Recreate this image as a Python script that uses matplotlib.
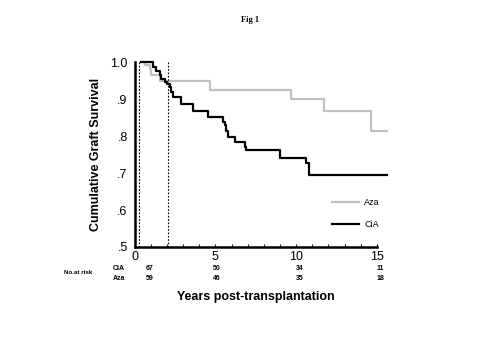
import matplotlib
matplotlib.use("Agg")
import matplotlib.pyplot as plt
from matplotlib.ticker import MultipleLocator, FuncFormatter

# Kaplan-Meier steps (years, cumulative graft survival)
cia_years = [0.4, 1.14, 1.34, 1.55, 1.65, 1.86, 2.0, 2.17, 2.27, 2.38, 2.89, 3.62,
             4.55, 5.47, 5.58, 5.68, 5.79, 6.2, 6.82, 6.92, 8.99, 10.63, 10.8, 15.6]
cia_surv = [1.0, 0.988, 0.977, 0.964, 0.955, 0.946, 0.941, 0.932, 0.919, 0.905, 0.887, 0.867,
            0.851, 0.838, 0.829, 0.815, 0.797, 0.784, 0.770, 0.763, 0.741, 0.727, 0.694, 0.694]

aza_years = [0.4, 0.62, 0.93, 1.03, 1.55, 4.65, 9.71, 11.72, 14.6, 15.6]
aza_surv = [1.0, 0.991, 0.982, 0.964, 0.949, 0.925, 0.899, 0.867, 0.815, 0.815]

# dotted reference lines
ref_years = [0.28, 2.05]

# numbers at risk
risk_years = [0.95, 5.1, 10.2, 15.2]
risk_cia = [67, 50, 34, 11]
risk_aza = [59, 46, 35, 18]

plt.rcParams['font.family'] = ['Liberation Sans', 'DejaVu Sans']

fig = plt.figure(figsize=(4.79, 3.59), dpi=100)
ax = fig.add_axes([0.281, 0.312, 0.506, 0.515])

ax.step(aza_years, aza_surv, where='post', color='#c0c0c0', lw=1.6, clip_on=False, label='Aza')
ax.step(cia_years, cia_surv, where='post', color='black', lw=1.6, clip_on=False, label='CiA')
for x in ref_years:
    ax.axvline(x, color='black', lw=0.8, ls=(0, (1.5, 1.5)))

ax.set_xlim(0, 15)
ax.set_ylim(0.5, 1.0)
ax.spines['top'].set_visible(False)
ax.spines['right'].set_visible(False)
ax.spines['left'].set_linewidth(1.8)
ax.spines['bottom'].set_linewidth(1.8)

ax.xaxis.set_major_locator(MultipleLocator(5))
ax.xaxis.set_minor_locator(MultipleLocator(1))
ax.yaxis.set_major_locator(MultipleLocator(0.1))
ax.yaxis.set_major_formatter(FuncFormatter(lambda v, p: '1.0' if v > 0.99 else ('%.1f' % v)[1:]))
ax.tick_params(axis='x', which='both', direction='in', length=2, width=0.8, labelsize=9, pad=3)
ax.tick_params(axis='y', length=0, labelsize=9, pad=5)

ax.set_xlabel('Years post-transplantation', fontsize=9, fontweight='bold', labelpad=20)
ax.set_ylabel('Cumulative Graft Survival', fontsize=9, fontweight='bold', labelpad=6)

# at-risk table
ax.text(-4.4, 0.43, 'No.at risk', fontsize=4.5, fontweight='bold', va='center', ha='left',
        clip_on=False)
ax.text(-1.35, 0.443, 'CiA', fontsize=5, fontweight='bold', va='center', ha='left', clip_on=False)
ax.text(-1.35, 0.416, 'Aza', fontsize=5, fontweight='bold', va='center', ha='left', clip_on=False)
for x, c, a in zip(risk_years, risk_cia, risk_aza):
    ax.text(x, 0.443, str(c), fontsize=5, fontweight='bold', ha='center', va='center', clip_on=False)
    ax.text(x, 0.416, str(a), fontsize=5, fontweight='bold', ha='center', va='center', clip_on=False)

ax.legend(loc='upper left', bbox_to_anchor=(0.78, 0.31), frameon=False, fontsize=6.5,
          handlelength=3.0, labelspacing=1.5, handletextpad=0.6)

fig.text(0.523, 0.945, 'Fig 1', fontsize=6, fontweight='bold', family='Liberation Serif',
         ha='center', va='center')

fig.savefig('out.png', dpi=100)
